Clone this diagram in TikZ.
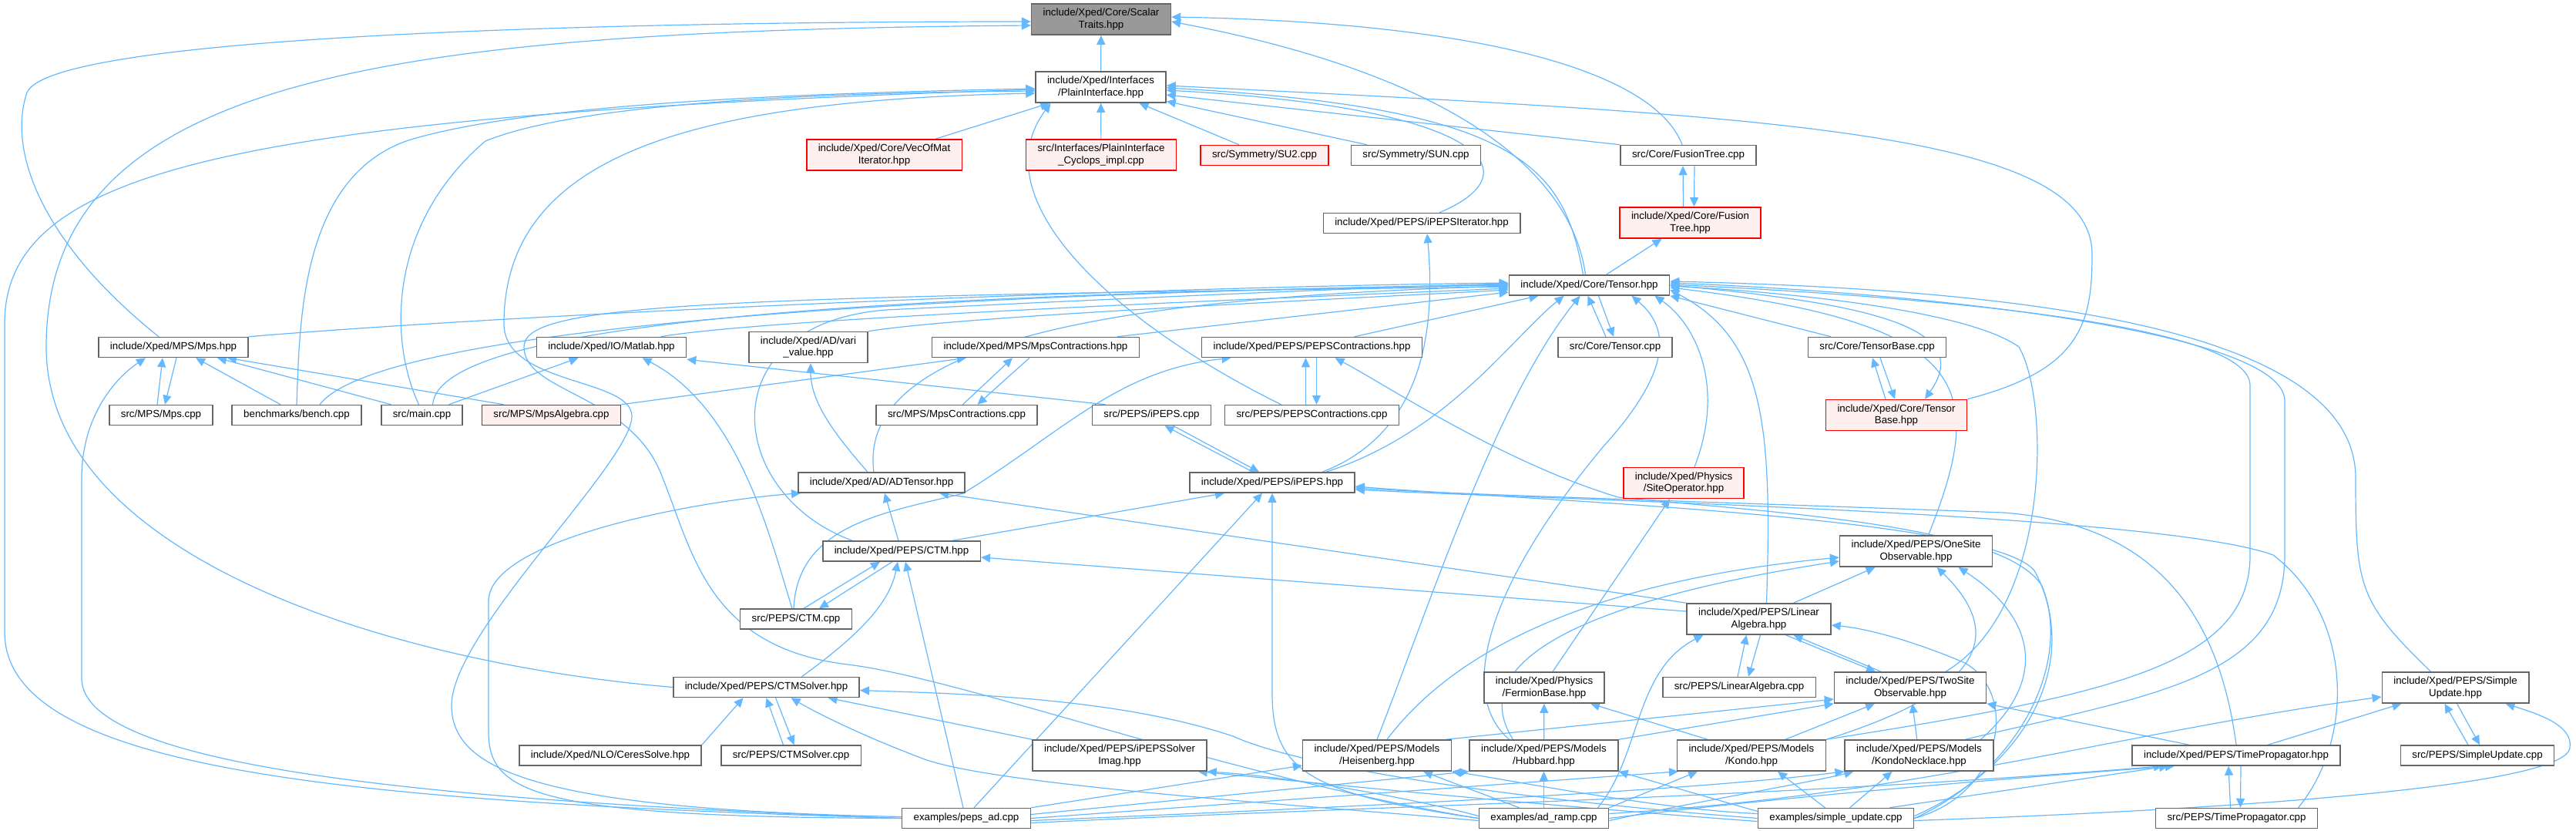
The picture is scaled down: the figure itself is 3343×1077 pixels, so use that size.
\documentclass[tikz,border=0pt]{standalone}
\usepackage{fontspec}
\setmainfont{Liberation Sans}
\usepackage{tikz}
\usetikzlibrary{arrows.meta,backgrounds}
\definecolor{cEdge}{HTML}{63B8FF}
\definecolor{cBorder}{HTML}{666666}
\definecolor{cRoot}{HTML}{999999}
\definecolor{cRed}{HTML}{FF0000}
\definecolor{cRedFill}{HTML}{FFF0F0}
\tikzset{
  file/.style = {rectangle, draw=cBorder, fill=white, line width=1.5pt, align=center,
                 inner xsep=15pt, inner ysep=6pt, minimum height=26pt,
                 font=\fontsize{13.3}{15.7}\selectfont},
  hot/.style  = {file, draw=cRed, fill=cRedFill},
  root/.style = {file, fill=cRoot},
  inc/.style  = {draw=cEdge, line width=1.2pt, -{Triangle[length=12pt,width=11pt]}},
}

\begin{document}
\begin{tikzpicture}[x=1pt, y=-1pt]
  \useasboundingbox (0,0) rectangle (3343,1077);

  % rank 0-3
  \node[root] (scalar) at (1429,25) {include/Xped/Core/Scalar\\Traits.hpp};
  \node[file] (plain) at (1428.5,113) {include/Xped/Interfaces\\/PlainInterface.hpp};
  \node[hot] (vecofmat) at (1147.5,201) {include/Xped/Core/VecOfMat\\Iterator.hpp};
  \node[hot] (cyclops) at (1429,201) {src/Interfaces/PlainInterface\\\_Cyclops\_impl.cpp};
  \node[hot] (su2) at (1641,201.5) {src/Symmetry/SU2.cpp};
  \node[file] (sun) at (1837.5,201.5) {src/Symmetry/SUN.cpp};
  \node[file] (ftcpp) at (2191,201.5) {src/Core/FusionTree.cpp};
  \node[hot] (fthpp) at (2193.5,289) {include/Xped/Core/Fusion\\Tree.hpp};
  \node[file] (ipepsit) at (1845,289.5) {include/Xped/PEPS/iPEPSIterator.hpp};

  % rank 4-6
  \node[file] (tensor) at (2062.5,370) {include/Xped/Core/Tensor.hpp};
  \node[file] (mps) at (225,450.5) {include/Xped/MPS/Mps.hpp};
  \node[file] (matlab) at (793.5,450.5) {include/Xped/IO/Matlab.hpp};
  \node[file] (vari) at (1049,450.5) {include/Xped/AD/vari\\\_value.hpp};
  \node[file] (mpscon) at (1344,450.5) {include/Xped/MPS/MpsContractions.hpp};
  \node[file] (pepscon) at (1702.5,450.5) {include/Xped/PEPS/PEPSContractions.hpp};
  \node[file] (tensorcpp) at (2096,450.5) {src/Core/Tensor.cpp};
  \node[file] (tbcpp) at (2436,450.5) {src/Core/TensorBase.cpp};
  \node[hot] (tbhpp) at (2461,538.5) {include/Xped/Core/Tensor\\Base.hpp};
  \node[file] (mpscpp) at (209,538.5) {src/MPS/Mps.cpp};
  \node[file] (bench) at (385,538.5) {benchmarks/bench.cpp};
  \node[file] (main) at (547.5,538.5) {src/main.cpp};
  \node[hot] (mpsalg) at (715.5,538.5) {src/MPS/MpsAlgebra.cpp};
  \node[file] (mpsconcpp) at (1241.5,538.5) {src/MPS/MpsContractions.cpp};
  \node[file] (ipepscpp) at (1494.5,538.5) {src/PEPS/iPEPS.cpp};
  \node[file] (pepsconcpp) at (1702.5,538.5) {src/PEPS/PEPSContractions.cpp};

  % rank 7-9
  \node[file] (adtensor) at (1144,626) {include/Xped/AD/ADTensor.hpp};
  \node[file] (ipeps) at (1651,626) {include/Xped/PEPS/iPEPS.hpp};
  \node[hot] (siteop) at (2185,626.5) {include/Xped/Physics\\/SiteOperator.hpp};
  \node[file] (onesite) at (2486.5,715) {include/Xped/PEPS/OneSite\\Observable.hpp};
  \node[file] (ctm) at (1170,715) {include/Xped/PEPS/CTM.hpp};
  \node[file] (ctmcpp) at (1033,803) {src/PEPS/CTM.cpp};
  \node[file] (linalg) at (2282.5,803) {include/Xped/PEPS/Linear\\Algebra.hpp};

  % rank 10-12
  \node[file] (linalgcpp) at (2257,891.5) {src/PEPS/LinearAlgebra.cpp};
  \node[file] (fermion) at (2004,892) {include/Xped/Physics\\/FermionBase.hpp};
  \node[file] (twosite) at (2479,892) {include/Xped/PEPS/TwoSite\\Observable.hpp};
  \node[file] (ctmsolver) at (994.5,891.5) {include/Xped/PEPS/CTMSolver.hpp};
  \node[file] (suhpp) at (3186.5,892) {include/Xped/PEPS/Simple\\Update.hpp};
  \node[file] (ceres) at (792,980) {include/Xped/NLO/CeresSolve.hpp};
  \node[file] (ctmsolvercpp) at (1026.5,980) {src/PEPS/CTMSolver.cpp};
  \node[file] (solverimag) at (1453,980) {include/Xped/PEPS/iPEPSSolver\\Imag.hpp};
  \node[file] (heis) at (1787,980) {include/Xped/PEPS/Models\\/Heisenberg.hpp};
  \node[file] (hubbard) at (2003.5,980) {include/Xped/PEPS/Models\\/Hubbard.hpp};
  \node[file] (kondo) at (2273,980) {include/Xped/PEPS/Models\\/Kondo.hpp};
  \node[file] (necklace) at (2490.5,980) {include/Xped/PEPS/Models\\/KondoNecklace.hpp};
  \node[file] (tphpp) at (2902,980) {include/Xped/PEPS/TimePropagator.hpp};
  \node[file] (sucpp) at (3215,980) {src/PEPS/SimpleUpdate.cpp};
  \node[file] (pepsad) at (1254,1061.5) {examples/peps\_ad.cpp};
  \node[file] (adramp) at (2003.5,1061.5) {examples/ad\_ramp.cpp};
  \node[file] (simpleupd) at (2382.5,1061.5) {examples/simple\_update.cpp};
  \node[file] (tpcpp) at (2902.5,1061.5) {src/PEPS/TimePropagator.cpp};

  \begin{scope}[on background layer]
  % into ScalarTraits
  \draw[inc] (plain) -- (scalar);
  \draw[inc] ([xshift=-19pt]mps.north) .. controls (60,320) and (8,200) .. (35,120) .. controls (70,40) and (900,28) .. ([yshift=-3pt]scalar.west);
  \draw[inc] (ctmsolver.west) .. controls (500,860) and (60,720) .. (60,450) .. controls (60,100) and (500,40) .. ([yshift=-8pt]scalar.west);
  \draw[inc] ([xshift=-5pt]tensor.north) .. controls (2040,230) and (1900,100) .. ([yshift=-3pt]scalar.east);
  \draw[inc] ([xshift=-8pt]ftcpp.north) .. controls (2150,100) and (1950,30) .. ([yshift=3pt]scalar.east);

  % into PlainInterface
  \draw[inc] (vecofmat) -- (plain);
  \draw[inc] (cyclops) -- (plain);
  \draw[inc] (su2) -- (plain);
  \draw[inc] (sun) -- (plain);
  \draw[inc] (ftcpp.north west) -- ([yshift=-10pt]plain.east);
  \draw[inc] ([xshift=23pt]ipepsit.north) .. controls (1990,225) and (1935,140) .. ([yshift=-4pt]plain.east);
  \draw[inc] ([xshift=-8pt]tensor.north) .. controls (2030,220) and (1980,140) .. ([yshift=-1pt]plain.east);
  \draw[inc] (tbhpp.north east) .. controls (2700,480) and (2715,420) .. (2715,330) .. controls (2715,170) and (2300,150) .. ([yshift=2pt]plain.east);
  \draw[inc] ([xshift=-40pt]pepsconcpp.north) .. controls (1450,420) and (1270,260) .. ([xshift=-65pt]plain.south);
  \draw[inc] (pepsad.west) .. controls (450,1040) and (6,1000) .. (6,820) -- (6,420) .. controls (6,220) and (300,150) .. ([yshift=-3pt]plain.west);
  \draw[inc] (bench.north) .. controls (389,420) and (389,230) .. (530,182) .. controls (700,130) and (1100,120) .. ([yshift=-2pt]plain.west);
  \draw[inc] ([xshift=-4pt]main.north) .. controls (504,440) and (504,290) .. (630,183) .. controls (760,130) and (1100,120) .. ([yshift=-5pt]plain.west);
  \draw[inc] ([yshift=2pt]pepsad.west) .. controls (700,1050) and (586,1000) .. (586,915) .. controls (586,820) and (820,600) .. (820,540) .. controls (820,490) and (654,500) .. (654,420) .. controls (654,200) and (900,130) .. ([yshift=-8pt]plain.west);

  % into Tensor
  \draw[inc] (adramp.west) .. controls (1600,1010) and (1250,880) .. (1100,862) .. controls (920,840) and (900,720) .. (860,620) .. controls (820,510) and (680,510) .. (680,450) .. controls (680,395) and (900,385) .. ([yshift=-2pt]tensor.west);
  \draw[inc] (mps.north east) .. controls (700,405) and (1500,372) .. ([yshift=3pt]tensor.west);
  \draw[inc] ([xshift=30pt]bench.north) .. controls (480,440) and (1000,385) .. ([yshift=1pt]tensor.west);
  \draw[inc] ([xshift=14pt]main.north) .. controls (570,420) and (1100,382) .. (tensor.west);
  \draw[inc] ([xshift=64pt]matlab.north) .. controls (1000,412) and (1700,385) .. ([yshift=-4pt]tensor.west);
  \draw[inc] (vari.north east) .. controls (1250,410) and (1700,390) .. ([yshift=-6pt]tensor.west);
  \draw[inc] ([xshift=106pt]mpscon.north) -- ([yshift=-9pt]tensor.west);
  \draw[inc] ([xshift=-10pt]adtensor.north) .. controls (1110,430) and (1500,385) .. ([yshift=-1pt]tensor.west);
  \draw[inc] ([xshift=-64pt]ctm.north) .. controls (940,640) and (920,420) .. (1150,402) .. controls (1500,385) and (1800,372) .. ([yshift=2pt]tensor.west);
  \draw[inc] ([xshift=55pt]pepscon.north) -- ([xshift=-66pt]tensor.south);
  \draw[inc] ([xshift=70pt]ipeps.north) .. controls (1880,560) and (1960,440) .. ([xshift=-33pt]tensor.south);
  \draw[inc] (heis.north) .. controls (1850,800) and (1940,520) .. ([xshift=-12pt]tensor.south);
  \draw[inc] ([xshift=-45pt]hubbard.north) .. controls (1890,900) and (1930,760) .. (2080,580) .. controls (2180,470) and (2160,420) .. ([xshift=55pt]tensor.south);
  \draw[inc] ([xshift=14pt]siteop.north) .. controls (2240,500) and (2200,420) .. ([xshift=85pt]tensor.south);
  \draw[inc] ([xshift=10pt]linalg.north) .. controls (2300,550) and (2290,440) .. ([yshift=-6pt]tensor.east);
  \draw[inc] ([xshift=16pt]onesite.north) .. controls (2580,500) and (2560,420) .. ([yshift=-3pt]tensor.east);
  \draw[inc] ([xshift=46pt]twosite.north) .. controls (2661,790) and (2661,520) .. (2620,450) .. controls (2550,400) and (2300,378) .. ([yshift=-1pt]tensor.east);
  \draw[inc] (kondo.north east) .. controls (2750,900) and (2920,860) .. (2920,720) -- (2920,500) .. controls (2920,420) and (2500,385) .. ([yshift=1pt]tensor.east);
  \draw[inc] ([xshift=60pt]necklace.north) .. controls (2800,900) and (2965,880) .. (2965,720) -- (2965,520) .. controls (2965,430) and (2500,380) .. ([yshift=3pt]tensor.east);
  \draw[inc] ([xshift=-32pt]suhpp.north) .. controls (3060,780) and (3057,760) .. (3057,620) .. controls (3057,420) and (2600,375) .. ([yshift=5pt]tensor.east);
  \draw[inc] ([xshift=-60pt]tbcpp.north) -- (tensor.south east);
  \draw[inc] ([xshift=-12pt]tensorcpp.north) -- ([xshift=-2pt]tensor.south);
  \draw[inc] ([xshift=12pt]tensor.south) -- ([xshift=-2pt]tensorcpp.north);

  % Tensor includes
  \draw[inc] ([xshift=22pt]tensor.north) -- ([xshift=-37pt]fthpp.south);
  \draw[inc] (tensor.east) .. controls (2450,395) and (2560,430) .. ([xshift=37pt]tbhpp.north);
  \draw[inc] ([xshift=-14pt]tbhpp.north) -- ([xshift=-6pt]tbcpp.south);
  \draw[inc] ([xshift=4pt]tbcpp.south) -- ([xshift=-2pt]tbhpp.north);
  \draw[inc] ([xshift=-9pt]fthpp.north) -- ([xshift=-7pt]ftcpp.south);
  \draw[inc] ([xshift=8pt]ftcpp.south) -- ([xshift=5pt]fthpp.north);

  % Mps
  \draw[inc] ([xshift=-5pt]mpscpp.north) -- ([xshift=-14pt]mps.south);
  \draw[inc] ([xshift=4pt]mps.south) -- ([xshift=5pt]mpscpp.north);
  \draw[inc] ([xshift=-21pt]bench.north) -- ([xshift=29pt]mps.south);
  \draw[inc] ([xshift=-40pt]main.north) -- ([xshift=57pt]mps.south);
  \draw[inc] ([xshift=-62pt]mpsalg.north) -- ([xshift=70pt]mps.south);
  \draw[inc] (pepsad.west) .. controls (600,1040) and (106,1000) .. (106,880) -- (106,620) .. controls (106,540) and (150,490) .. ([xshift=-36pt]mps.south);

  % Matlab, vari, MpsContractions
  \draw[inc] ([xshift=35pt]main.north) -- ([xshift=-43pt]matlab.south);
  \draw[inc] ([xshift=-5pt]ctmcpp.north) .. controls (1000,700) and (960,530) .. ([xshift=40pt]matlab.south);
  \draw[inc] ([xshift=-60pt]ipepscpp.north) -- ([yshift=-2pt]matlab.south east);
  \draw[inc] (mpsalg.north east) -- ([xshift=-90pt]mpscon.south);
  \draw[inc] ([xshift=8pt]mpsconcpp.north) -- ([xshift=-30pt]mpscon.south);
  \draw[inc] ([xshift=-8pt]mpscon.south) -- ([xshift=27pt]mpsconcpp.north);
  \draw[inc] ([xshift=-18pt]adtensor.north) .. controls (1080,560) and (1052,520) .. ([xshift=3pt]vari.south);

  % PEPSContractions
  \draw[inc] ([xshift=-8pt]pepsconcpp.north) -- ([xshift=-8pt]pepscon.south);
  \draw[inc] ([xshift=6pt]pepscon.south) -- ([xshift=6pt]pepsconcpp.north);
  \draw[inc] ([xshift=-3pt]ctmcpp.north) .. controls (1035,680) and (1150,665) .. (1250,640) .. controls (1380,560) and (1450,480) .. ([xshift=-105pt]pepscon.south);
  \draw[inc] (simpleupd.east) .. controls (2620,1000) and (2690,860) .. (2650,760) .. controls (2600,680) and (2300,665) .. (2100,645) .. controls (1950,600) and (1800,500) .. ([xshift=30pt]pepscon.south);

  % iPEPS
  \draw[inc] ([xshift=-25pt]ipeps.north) -- ([xshift=17pt]ipepscpp.south);
  \draw[inc] ([xshift=28pt]ipepscpp.south) -- ([xshift=-17pt]ipeps.north);
  \draw[inc] ([xshift=65pt]ipeps.north) .. controls (1800,580) and (1870,500) .. ([xshift=7pt]ipepsit.south);
  \draw[inc] ([xshift=66pt]ctm.north) -- ([xshift=-62pt]ipeps.south);
  \draw[inc] ([xshift=10pt]pepsad.north) -- ([xshift=-13pt]ipeps.south);
  \draw[inc] (adramp.west) .. controls (1700,1030) and (1651,1000) .. (1651,900) -- (ipeps.south);
  \draw[inc] (tphpp.north) .. controls (2880,800) and (2800,680) .. (2600,665) .. controls (2200,650) and (1900,642) .. ([yshift=-7pt]ipeps.east);
  \draw[inc] ([xshift=80pt]tpcpp.north) .. controls (3055,960) and (3055,800) .. (2950,720) .. controls (2800,665) and (2000,648) .. ([yshift=-9pt]ipeps.east);
  \draw[inc] ([yshift=3pt]simpleupd.east) .. controls (2640,990) and (2700,850) .. (2640,740) .. controls (2580,670) and (2000,650) .. ([yshift=-5pt]ipeps.east);

  % CTM
  \draw[inc] ([xshift=10pt]ctmcpp.north) -- ([xshift=-28pt]ctm.south);
  \draw[inc] ([xshift=-12pt]ctm.south) -- ([xshift=30pt]ctmcpp.north);
  \draw[inc] ([yshift=10pt]linalg.west) -- ([yshift=-8pt]ctm.east);
  \draw[inc] ([xshift=-4pt]pepsad.north) -- ([xshift=5pt]ctm.south);
  \draw[inc] ([xshift=46pt]ctmsolver.north) .. controls (1120,820) and (1155,780) .. ([xshift=-5pt]ctm.south);
  \draw[inc] (ctm) -- (adtensor);

  % ADTensor, SiteOperator
  \draw[inc] (pepsad.west) .. controls (700,1060) and (634,1030) .. (634,950) -- (634,780) .. controls (634,700) and (900,650) .. ([xshift=-105pt]adtensor.south);
  \draw[inc] (linalg.north west) -- ([xshift=75pt]adtensor.south);
  \draw[inc] ([xshift=11pt]fermion.north) -- ([xshift=-18pt]siteop.south);

  % OneSite
  \draw[inc] ([xshift=45pt]linalg.north) -- ([xshift=-53pt]onesite.south);
  \draw[inc] ([xshift=13pt]heis.north) .. controls (1860,880) and (2000,760) .. ([yshift=-8pt]onesite.west);
  \draw[inc] ([xshift=-40pt]hubbard.north) .. controls (1900,860) and (2050,780) .. ([yshift=-13pt]onesite.west);
  \draw[inc] (kondo.north east) .. controls (2560,900) and (2610,830) .. ([xshift=27pt]onesite.south);
  \draw[inc] ([xshift=80pt]necklace.north) .. controls (2660,880) and (2640,800) .. ([xshift=55pt]onesite.south);

  % TwoSite, LinearAlgebra, FermionBase
  \draw[inc] ([xshift=35pt]linalg.south) -- ([xshift=-45pt]twosite.north);
  \draw[inc] ([xshift=-38pt]twosite.north) -- ([xshift=45pt]linalg.south);
  \draw[inc] ([xshift=90pt]heis.north) -- ([yshift=-15pt]twosite.west);
  \draw[inc] (hubbard.north east) -- (twosite.south west);
  \draw[inc] ([xshift=44pt]kondo.north) -- ([xshift=-46pt]twosite.south);
  \draw[inc] (necklace) -- (twosite);
  \draw[inc] ([xshift=-61pt]tphpp.north) -- (twosite.south east);
  \draw[inc] ([xshift=-2pt]linalgcpp.north) -- ([xshift=-16pt]linalg.south);
  \draw[inc] ([xshift=2pt]linalg.south) -- ([xshift=12pt]linalgcpp.north);
  \draw[inc] (simpleupd.east) .. controls (2600,1030) and (2620,900) .. (2550,860) .. controls (2480,830) and (2420,815) .. ([yshift=-8pt]linalg.east);
  \draw[inc] ([xshift=70pt]adramp.north) .. controls (2130,980) and (2120,870) .. ([xshift=-72pt]linalg.south);
  \draw[inc] (hubbard) -- (fermion);
  \draw[inc] ([xshift=-57pt]kondo.north) -- ([xshift=60pt]fermion.south);

  % CTMSolver, iPEPSSolverImag
  \draw[inc] (ceres.north east) -- ([xshift=-30pt]ctmsolver.south);
  \draw[inc] ([xshift=-10pt]ctmsolvercpp.north) -- (ctmsolver.south);
  \draw[inc] ([xshift=12pt]ctmsolver.south) -- ([xshift=4pt]ctmsolvercpp.north);
  \draw[inc] (solverimag.north west) -- ([xshift=80pt]ctmsolver.south);
  \draw[inc] ([yshift=-3pt]adramp.west) .. controls (1700,1045) and (1300,1020) .. (1200,985) .. controls (1120,955) and (1060,925) .. ([xshift=32pt]ctmsolver.south);
  \draw[inc] (simpleupd.west) .. controls (2000,1040) and (1700,1000) .. (1600,955) .. controls (1450,905) and (1250,900) .. ([yshift=-4pt]ctmsolver.east);
  \draw[inc] ([yshift=3pt]adramp.west) .. controls (1850,1040) and (1700,1010) .. (solverimag.south east);
  \draw[inc] ([yshift=-4pt]simpleupd.west) .. controls (2000,1045) and (1700,1015) .. ([xshift=-12pt]solverimag.south east);

  % Models
  \draw[inc] (pepsad.north east) -- ([yshift=-13pt]heis.west);
  \draw[inc] ([xshift=-32pt]adramp.north) -- ([xshift=60pt]heis.south);
  \draw[inc] ([yshift=6pt]simpleupd.west) .. controls (2150,1050) and (1950,1010) .. (heis.south east);
  \draw[inc] ([yshift=5pt]pepsad.east) -- (hubbard.south west);
  \draw[inc] (adramp) -- (hubbard);
  \draw[inc] ([yshift=9pt]simpleupd.west) -- (hubbard.south east);
  \draw[inc] (pepsad.east) -- ([xshift=-95pt]kondo.south);
  \draw[inc] (adramp.north east) -- ([xshift=-70pt]kondo.south);
  \draw[inc] ([xshift=-14pt]simpleupd.north) -- ([xshift=34pt]kondo.south);
  \draw[inc] ([yshift=-3pt]pepsad.east) .. controls (1800,1045) and (2200,1025) .. (necklace.south west);
  \draw[inc] ([yshift=-3pt]adramp.east) .. controls (2200,1040) and (2350,1015) .. ([xshift=12pt]necklace.south west);
  \draw[inc] ([xshift=18pt]simpleupd.north) -- ([xshift=-35pt]necklace.south);

  % TimePropagator, SimpleUpdate
  \draw[inc] ([yshift=-6pt]pepsad.east) .. controls (1800,1045) and (2300,1035) .. ([xshift=-95pt]tphpp.south);
  \draw[inc] (adramp.east) .. controls (2300,1035) and (2600,1010) .. ([xshift=-80pt]tphpp.south);
  \draw[inc] ([xshift=70pt]simpleupd.north) -- ([xshift=-88pt]tphpp.south);
  \draw[inc] ([xshift=-8pt]tpcpp.north) -- ([xshift=-10pt]tphpp.south);
  \draw[inc] ([xshift=6pt]tphpp.south) -- ([xshift=5pt]tpcpp.north);
  \draw[inc] ([xshift=41pt]tphpp.north) -- ([xshift=-70pt]suhpp.south);
  \draw[inc] ([xshift=-12pt]sucpp.north) -- ([xshift=-14pt]suhpp.south);
  \draw[inc] ([xshift=2pt]suhpp.south) -- ([xshift=3pt]sucpp.north);
  \draw[inc] ([yshift=-3pt]simpleupd.east) .. controls (2900,1050) and (3330,1020) .. (3335,970) .. controls (3340,940) and (3290,925) .. ([xshift=65pt]suhpp.south);
  \draw[inc] ([yshift=6pt]adramp.east) .. controls (2500,1030) and (2750,950) .. ([yshift=-12pt]suhpp.west);
  \end{scope}
\end{tikzpicture}
\end{document}
